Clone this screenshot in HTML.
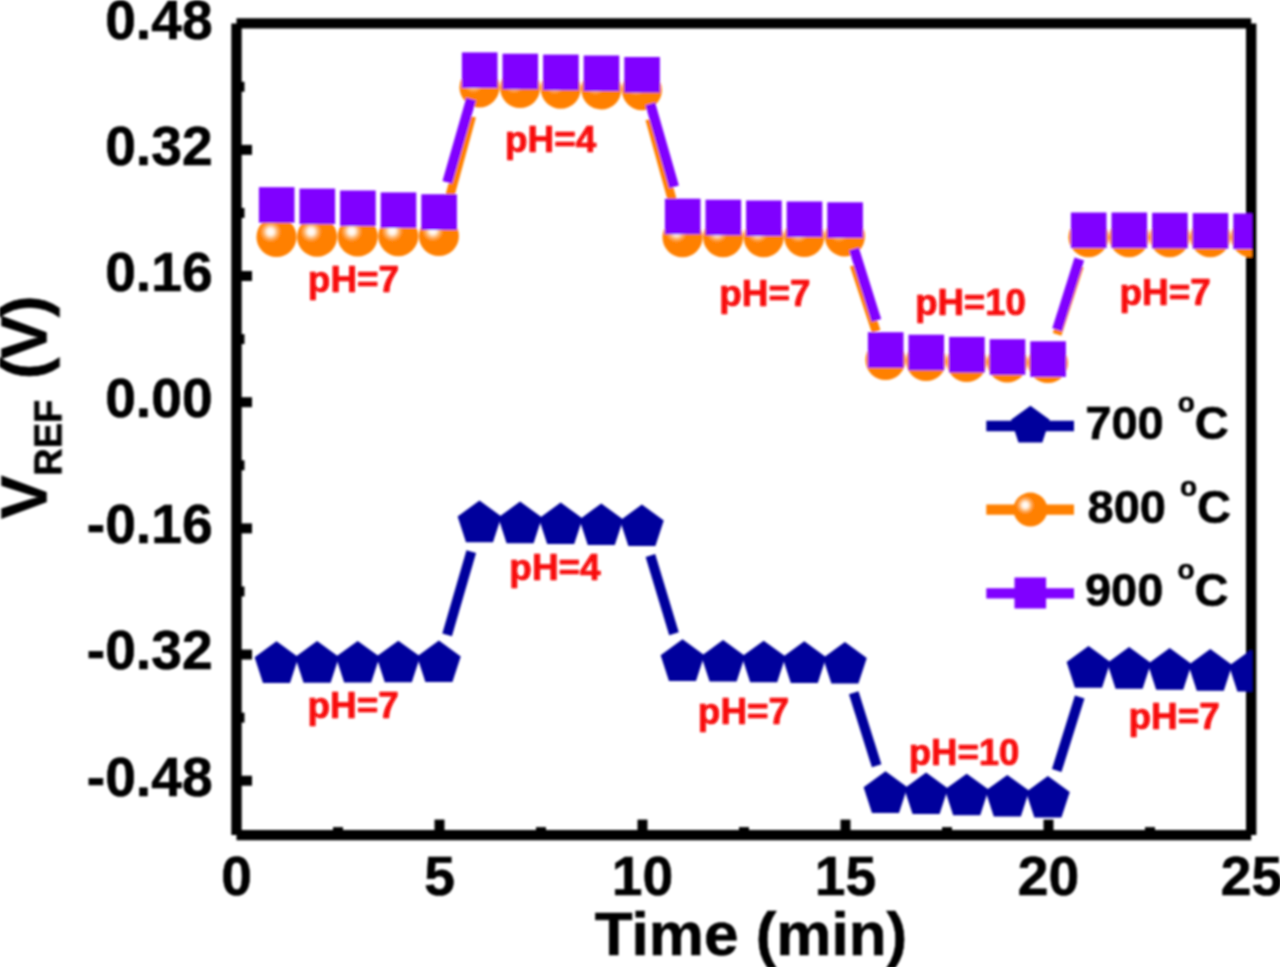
<!DOCTYPE html>
<html><head><meta charset="utf-8"><title>VREF vs Time</title>
<style>
html,body{margin:0;padding:0;background:#fff;}
body{width:1280px;height:967px;overflow:hidden;}
svg{display:block;}
text{font-family:"Liberation Sans",sans-serif;font-weight:bold;}
</style></head><body>
<svg width="1280" height="967" viewBox="0 0 1280 967">
<defs>
<radialGradient id="sph" cx="0.35" cy="0.37" r="0.27" fx="0.35" fy="0.37">
<stop offset="0" stop-color="#ffffff"/>
<stop offset="0.30" stop-color="#fff4e8"/>
<stop offset="0.65" stop-color="#ffb060"/>
<stop offset="1" stop-color="#ff8000"/>
</radialGradient>
<clipPath id="clip"><rect x="236.5" y="23.4" width="1015.5" height="811.7"/></clipPath>
<filter id="soft" x="-2%" y="-2%" width="104%" height="104%"><feGaussianBlur stdDeviation="0.9"/></filter>
</defs>
<rect width="1280" height="967" fill="#fff"/>
<g filter="url(#soft)">

<g stroke="#000" stroke-width="10.4" fill="none">
<line x1="236.5" y1="23.4" x2="236.5" y2="835.1"/>
<line x1="1251.2" y1="23.4" x2="1251.2" y2="835.1"/>
<line x1="236.5" y1="23.4" x2="1251.2" y2="23.4"/>
<line x1="236.5" y1="835.1" x2="1251.2" y2="835.1"/>
</g>
<g stroke="#000" stroke-width="10" fill="none">
<line x1="236.5" y1="780.73" x2="252.0" y2="780.73"/>
<line x1="236.5" y1="654.55" x2="252.0" y2="654.55"/>
<line x1="236.5" y1="717.64" x2="244.5" y2="717.64"/>
<line x1="236.5" y1="528.38" x2="252.0" y2="528.38"/>
<line x1="236.5" y1="591.46" x2="244.5" y2="591.46"/>
<line x1="236.5" y1="402.20" x2="252.0" y2="402.20"/>
<line x1="236.5" y1="465.29" x2="244.5" y2="465.29"/>
<line x1="236.5" y1="276.02" x2="252.0" y2="276.02"/>
<line x1="236.5" y1="339.11" x2="244.5" y2="339.11"/>
<line x1="236.5" y1="149.85" x2="252.0" y2="149.85"/>
<line x1="236.5" y1="212.94" x2="244.5" y2="212.94"/>
<line x1="236.5" y1="86.76" x2="244.5" y2="86.76"/>
<line x1="338.00" y1="835.1" x2="338.00" y2="827.1"/>
<line x1="439.50" y1="835.1" x2="439.50" y2="819.6"/>
<line x1="541.00" y1="835.1" x2="541.00" y2="827.1"/>
<line x1="642.50" y1="835.1" x2="642.50" y2="819.6"/>
<line x1="744.00" y1="835.1" x2="744.00" y2="827.1"/>
<line x1="845.50" y1="835.1" x2="845.50" y2="819.6"/>
<line x1="947.00" y1="835.1" x2="947.00" y2="827.1"/>
<line x1="1048.50" y1="835.1" x2="1048.50" y2="819.6"/>
<line x1="1150.00" y1="835.1" x2="1150.00" y2="827.1"/>
</g>
<g font-size="55.2" fill="#000" stroke="#000" stroke-width="0.6">
<text x="212.6" y="795.63" text-anchor="end">-0.48</text>
<text x="212.6" y="669.45" text-anchor="end">-0.32</text>
<text x="212.6" y="543.28" text-anchor="end">-0.16</text>
<text x="212.6" y="417.10" text-anchor="end">0.00</text>
<text x="212.6" y="290.92" text-anchor="end">0.16</text>
<text x="212.6" y="164.75" text-anchor="end">0.32</text>
<text x="212.6" y="38.57" text-anchor="end">0.48</text>
<text x="236.50" y="895.3" text-anchor="middle">0</text>
<text x="439.50" y="895.3" text-anchor="middle">5</text>
<text x="642.50" y="895.3" text-anchor="middle">10</text>
<text x="845.50" y="895.3" text-anchor="middle">15</text>
<text x="1048.50" y="895.3" text-anchor="middle">20</text>
<text x="1251.50" y="895.3" text-anchor="middle">25</text>
</g>
<text x="751.0" y="954.6" font-size="62" text-anchor="middle" fill="#000" stroke="#000" stroke-width="0.6">Time (min)</text>
<g transform="translate(46.5,519.0) rotate(-90)"><text x="0" y="0" font-size="65.5" fill="#000" stroke="#000" stroke-width="0.6">V<tspan font-size="38" dy="15" dx="-0.5">REF</tspan><tspan font-size="65.5" dy="-15" dx="4.3" letter-spacing="-1.85"> (V)</tspan></text></g>
<g clip-path="url(#clip)">
<line x1="447.12" y1="634.87" x2="471.28" y2="551.63" stroke="#00009c" stroke-width="10.0"/>
<line x1="650.41" y1="555.45" x2="673.99" y2="633.75" stroke="#00009c" stroke-width="10.0"/>
<line x1="853.74" y1="692.85" x2="876.66" y2="765.85" stroke="#00009c" stroke-width="10.0"/>
<line x1="1056.70" y1="770.54" x2="1079.70" y2="696.96" stroke="#00009c" stroke-width="10.0"/>
<polygon points="276.50,641.30 298.37,657.19 290.02,682.91 262.98,682.91 254.63,657.19" fill="#00009c"/>
<polygon points="317.10,641.10 338.97,656.99 330.62,682.71 303.58,682.71 295.23,656.99" fill="#00009c"/>
<polygon points="357.70,640.90 379.57,656.79 371.22,682.51 344.18,682.51 335.83,656.79" fill="#00009c"/>
<polygon points="398.30,640.70 420.17,656.59 411.82,682.31 384.78,682.31 376.43,656.59" fill="#00009c"/>
<polygon points="438.90,640.50 460.77,656.39 452.42,682.11 425.38,682.11 417.03,656.39" fill="#00009c"/>
<polygon points="479.50,500.60 501.37,516.49 493.02,542.21 465.98,542.21 457.63,516.49" fill="#00009c"/>
<polygon points="520.10,501.60 541.97,517.49 533.62,543.21 506.58,543.21 498.23,517.49" fill="#00009c"/>
<polygon points="560.70,502.50 582.57,518.39 574.22,544.11 547.18,544.11 538.83,518.39" fill="#00009c"/>
<polygon points="601.30,503.50 623.17,519.39 614.82,545.11 587.78,545.11 579.43,519.39" fill="#00009c"/>
<polygon points="641.90,504.50 663.77,520.39 655.42,546.11 628.38,546.11 620.03,520.39" fill="#00009c"/>
<polygon points="682.50,639.30 704.37,655.19 696.02,680.91 668.98,680.91 660.63,655.19" fill="#00009c"/>
<polygon points="723.10,640.00 744.97,655.89 736.62,681.61 709.58,681.61 701.23,655.89" fill="#00009c"/>
<polygon points="763.70,640.70 785.57,656.59 777.22,682.31 750.18,682.31 741.83,656.59" fill="#00009c"/>
<polygon points="804.30,641.30 826.17,657.19 817.82,682.91 790.78,682.91 782.43,657.19" fill="#00009c"/>
<polygon points="844.90,642.00 866.77,657.89 858.42,683.61 831.38,683.61 823.03,657.89" fill="#00009c"/>
<polygon points="885.50,771.30 907.37,787.19 899.02,812.91 871.98,812.91 863.63,787.19" fill="#00009c"/>
<polygon points="926.10,772.50 947.97,788.39 939.62,814.11 912.58,814.11 904.23,788.39" fill="#00009c"/>
<polygon points="966.70,773.70 988.57,789.59 980.22,815.31 953.18,815.31 944.83,789.59" fill="#00009c"/>
<polygon points="1007.30,774.90 1029.17,790.79 1020.82,816.51 993.78,816.51 985.43,790.79" fill="#00009c"/>
<polygon points="1047.90,776.00 1069.77,791.89 1061.42,817.61 1034.38,817.61 1026.03,791.89" fill="#00009c"/>
<polygon points="1088.50,646.10 1110.37,661.99 1102.02,687.71 1074.98,687.71 1066.63,661.99" fill="#00009c"/>
<polygon points="1129.10,647.10 1150.97,662.99 1142.62,688.71 1115.58,688.71 1107.23,662.99" fill="#00009c"/>
<polygon points="1169.70,648.10 1191.57,663.99 1183.22,689.71 1156.18,689.71 1147.83,663.99" fill="#00009c"/>
<polygon points="1210.30,649.10 1232.17,664.99 1223.82,690.71 1196.78,690.71 1188.43,664.99" fill="#00009c"/>
<polygon points="1250.90,649.90 1272.77,665.79 1264.42,691.51 1237.38,691.51 1229.03,665.79" fill="#00009c"/>
<line x1="446.81" y1="207.06" x2="471.59" y2="116.34" stroke="#ff8000" stroke-width="9.0"/>
<line x1="649.88" y1="119.12" x2="674.52" y2="208.38" stroke="#ff8000" stroke-width="9.0"/>
<line x1="854.27" y1="265.00" x2="876.13" y2="331.50" stroke="#ff8000" stroke-width="9.0"/>
<line x1="1057.11" y1="334.45" x2="1079.29" y2="265.75" stroke="#ff8000" stroke-width="9.0"/>
<circle cx="276.50" cy="237.00" r="20" fill="url(#sph)"/>
<circle cx="317.10" cy="236.80" r="20" fill="url(#sph)"/>
<circle cx="357.70" cy="236.50" r="20" fill="url(#sph)"/>
<circle cx="398.30" cy="236.20" r="20" fill="url(#sph)"/>
<circle cx="438.90" cy="236.00" r="20" fill="url(#sph)"/>
<circle cx="479.50" cy="87.40" r="20" fill="url(#sph)"/>
<circle cx="520.10" cy="88.00" r="20" fill="url(#sph)"/>
<circle cx="560.70" cy="88.80" r="20" fill="url(#sph)"/>
<circle cx="601.30" cy="89.50" r="20" fill="url(#sph)"/>
<circle cx="641.90" cy="90.20" r="20" fill="url(#sph)"/>
<circle cx="682.50" cy="237.30" r="20" fill="url(#sph)"/>
<circle cx="723.10" cy="237.30" r="20" fill="url(#sph)"/>
<circle cx="763.70" cy="237.30" r="20" fill="url(#sph)"/>
<circle cx="804.30" cy="237.00" r="20" fill="url(#sph)"/>
<circle cx="844.90" cy="236.50" r="20" fill="url(#sph)"/>
<circle cx="885.50" cy="360.00" r="20" fill="url(#sph)"/>
<circle cx="926.10" cy="361.00" r="20" fill="url(#sph)"/>
<circle cx="966.70" cy="362.00" r="20" fill="url(#sph)"/>
<circle cx="1007.30" cy="362.50" r="20" fill="url(#sph)"/>
<circle cx="1047.90" cy="363.00" r="20" fill="url(#sph)"/>
<circle cx="1088.50" cy="237.20" r="20" fill="url(#sph)"/>
<circle cx="1129.10" cy="237.20" r="20" fill="url(#sph)"/>
<circle cx="1169.70" cy="237.20" r="20" fill="url(#sph)"/>
<circle cx="1210.30" cy="237.20" r="20" fill="url(#sph)"/>
<circle cx="1250.90" cy="237.20" r="20" fill="url(#sph)"/>
<line x1="447.29" y1="182.43" x2="471.11" y2="99.22" stroke="#8000ff" stroke-width="10.0"/>
<line x1="650.30" y1="103.82" x2="674.10" y2="186.88" stroke="#8000ff" stroke-width="10.0"/>
<line x1="854.00" y1="248.91" x2="876.40" y2="320.59" stroke="#8000ff" stroke-width="10.0"/>
<line x1="1057.07" y1="329.71" x2="1079.33" y2="259.09" stroke="#8000ff" stroke-width="10.0"/>
<rect x="258.90" y="187.20" width="35.6" height="35.6" fill="#8000ff"/>
<rect x="299.50" y="188.60" width="35.6" height="35.6" fill="#8000ff"/>
<rect x="340.10" y="190.50" width="35.6" height="35.6" fill="#8000ff"/>
<rect x="380.70" y="192.40" width="35.6" height="35.6" fill="#8000ff"/>
<rect x="421.30" y="194.25" width="35.6" height="35.6" fill="#8000ff"/>
<rect x="461.90" y="52.40" width="35.6" height="35.6" fill="#8000ff"/>
<rect x="502.50" y="53.70" width="35.6" height="35.6" fill="#8000ff"/>
<rect x="543.10" y="54.60" width="35.6" height="35.6" fill="#8000ff"/>
<rect x="583.70" y="55.50" width="35.6" height="35.6" fill="#8000ff"/>
<rect x="624.30" y="57.00" width="35.6" height="35.6" fill="#8000ff"/>
<rect x="664.90" y="198.70" width="35.6" height="35.6" fill="#8000ff"/>
<rect x="705.50" y="199.70" width="35.6" height="35.6" fill="#8000ff"/>
<rect x="746.10" y="200.50" width="35.6" height="35.6" fill="#8000ff"/>
<rect x="786.70" y="201.50" width="35.6" height="35.6" fill="#8000ff"/>
<rect x="827.30" y="202.30" width="35.6" height="35.6" fill="#8000ff"/>
<rect x="867.90" y="332.20" width="35.6" height="35.6" fill="#8000ff"/>
<rect x="908.50" y="334.70" width="35.6" height="35.6" fill="#8000ff"/>
<rect x="949.10" y="336.90" width="35.6" height="35.6" fill="#8000ff"/>
<rect x="989.70" y="339.20" width="35.6" height="35.6" fill="#8000ff"/>
<rect x="1030.30" y="341.30" width="35.6" height="35.6" fill="#8000ff"/>
<rect x="1070.90" y="212.50" width="35.6" height="35.6" fill="#8000ff"/>
<rect x="1111.50" y="212.50" width="35.6" height="35.6" fill="#8000ff"/>
<rect x="1152.10" y="212.80" width="35.6" height="35.6" fill="#8000ff"/>
<rect x="1192.70" y="213.10" width="35.6" height="35.6" fill="#8000ff"/>
<rect x="1233.30" y="213.50" width="35.6" height="35.6" fill="#8000ff"/>
</g>
<g font-size="36" fill="#f80808" stroke="#f80808" stroke-width="0.7" text-anchor="middle">
<text x="353.5" y="291.6" textLength="91.3" lengthAdjust="spacingAndGlyphs">pH=7</text>
<text x="550.7" y="151.5" textLength="91.3" lengthAdjust="spacingAndGlyphs">pH=4</text>
<text x="764.9" y="306.3" textLength="91.3" lengthAdjust="spacingAndGlyphs">pH=7</text>
<text x="970.5" y="315.3" textLength="110.7" lengthAdjust="spacingAndGlyphs">pH=10</text>
<text x="1165.2" y="305.0" textLength="91.3" lengthAdjust="spacingAndGlyphs">pH=7</text>
<text x="353.2" y="717.6" textLength="91.3" lengthAdjust="spacingAndGlyphs">pH=7</text>
<text x="555.0" y="579.9" textLength="91.3" lengthAdjust="spacingAndGlyphs">pH=4</text>
<text x="743.5" y="723.6" textLength="91.3" lengthAdjust="spacingAndGlyphs">pH=7</text>
<text x="964.1" y="764.8000000000001" textLength="110.7" lengthAdjust="spacingAndGlyphs">pH=10</text>
<text x="1174.1" y="728.6" textLength="91.3" lengthAdjust="spacingAndGlyphs">pH=7</text>
</g>
<line x1="986.3" y1="426.0" x2="1074.0" y2="426.0" stroke="#00009c" stroke-width="10.3"/>
<line x1="986.3" y1="509.7" x2="1074.0" y2="509.7" stroke="#ff8000" stroke-width="10.3"/>
<line x1="986.3" y1="593.4" x2="1074.0" y2="593.4" stroke="#8000ff" stroke-width="10.3"/>
<polygon points="1030.40,405.70 1049.71,419.73 1042.33,442.42 1018.47,442.42 1011.09,419.73" fill="#00009c"/>
<circle cx="1030.4" cy="509.6" r="17" fill="url(#sph)"/>
<rect x="1014.5" y="577.5" width="31.6" height="31" fill="#8000ff"/>
<text font-size="47" fill="#000" stroke="#000" stroke-width="0.6"><tspan x="1085.3" y="439.0">700</tspan><tspan x="1177.8" y="412.0" font-size="28">o</tspan><tspan x="1194.8" y="439.0">C</tspan></text>
<text font-size="47" fill="#000" stroke="#000" stroke-width="0.6"><tspan x="1087.6" y="522.7">800</tspan><tspan x="1180.1" y="495.70000000000005" font-size="28">o</tspan><tspan x="1197.1" y="522.7">C</tspan></text>
<text font-size="47" fill="#000" stroke="#000" stroke-width="0.6"><tspan x="1084.8999999999999" y="606.3">900</tspan><tspan x="1177.3999999999999" y="579.3" font-size="28">o</tspan><tspan x="1194.3999999999999" y="606.3">C</tspan></text>
</g>
</svg>
</body></html>
